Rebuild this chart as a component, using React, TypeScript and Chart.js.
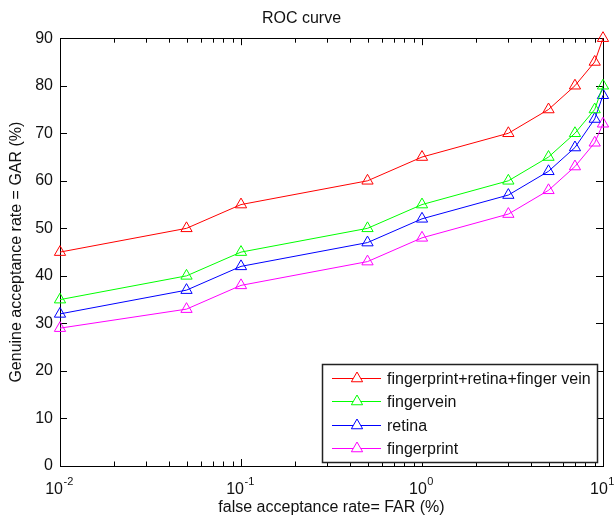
import React, { useEffect, useRef } from "react";
import { Chart, registerables } from "chart.js";

Chart.register(...registerables);

// ---- data ----
const FAR = [0.01, 0.05, 0.1, 0.5, 1, 3, 5, 7, 9, 10];
const fusionGAR = [45, 50, 55, 60, 65, 70, 75, 80, 85, 90];
const fingerveinGAR = [35, 40, 45, 50, 55, 60, 65, 70, 75, 80];
const retinaGAR = [32, 37, 42, 47, 52, 57, 62, 67, 73, 78];
const fingerprintGAR = [29, 33, 38, 43, 48, 53, 58, 63, 68, 72];
const seriesLabels = ["fingerprint+retina+finger vein", "fingervein", "retina", "fingerprint"];
const seriesColors = ["#ff0000", "#00ff00", "#0000ff", "#ff00ff"];
const yTickValues = [0, 10, 20, 30, 40, 50, 60, 70, 80, 90];
const xDecades = [0.01, 0.1, 1, 10];
const xDecadeExponents = ["-2", "-1", "0", "1"];

const FONT = "'Liberation Sans', Arial, sans-serif";

const matlabAxes = {
  id: "matlabAxes",
  beforeDatasetsDraw(chart: any) {
    const { ctx, chartArea } = chart;
    const xs = chart.scales.x;
    const ys = chart.scales.y;
    const { left, right, top, bottom } = chartArea;
    ctx.save();
    ctx.strokeStyle = "#000";
    ctx.lineWidth = 1;
    ctx.beginPath();
    // y ticks (left and right, inward)
    yTickValues.forEach((v) => {
      const y = Math.round(ys.getPixelForValue(v)) + 0.5;
      ctx.moveTo(left, y);
      ctx.lineTo(left + 7, y);
      ctx.moveTo(right, y);
      ctx.lineTo(right - 7, y);
    });
    // x ticks (bottom and top, inward)
    xDecades.forEach((d, i) => {
      const x = Math.round(xs.getPixelForValue(d)) + 0.5;
      ctx.moveTo(x, bottom);
      ctx.lineTo(x, bottom - 7);
      ctx.moveTo(x, top);
      ctx.lineTo(x, top + 7);
      if (i < xDecades.length - 1) {
        for (let m = 2; m <= 9; m++) {
          const xm = Math.round(xs.getPixelForValue(d * m)) + 0.5;
          ctx.moveTo(xm, bottom);
          ctx.lineTo(xm, bottom - 4.5);
          ctx.moveTo(xm, top);
          ctx.lineTo(xm, top + 4.5);
        }
      }
    });
    ctx.stroke();
    ctx.strokeRect(Math.round(left) + 0.5, Math.round(top) + 0.5, Math.round(right - left), Math.round(bottom - top));
    ctx.restore();
  },
  afterDatasetsDraw(chart: any) {
    const { ctx } = chart;
    // legend box
    const bx = 322, by = 364, bw = 275, bh = 98;
    ctx.save();
    ctx.fillStyle = "#fff";
    ctx.fillRect(bx, by, bw, bh);
    ctx.strokeStyle = "#222";
    ctx.lineWidth = 1.5;
    ctx.strokeRect(bx + 0.5, by + 0.5, bw, bh);
    ctx.font = `16px ${FONT}`;
    ctx.textBaseline = "middle";
    ctx.textAlign = "left";
    chart.data.datasets.forEach((ds: any, i: number) => {
      const y = Math.round(by + 14 + i * 23.3) + 0.5;
      ctx.strokeStyle = ds.borderColor;
      ctx.lineWidth = 1;
      ctx.beginPath();
      ctx.moveTo(bx + 10, y);
      ctx.lineTo(bx + 59, y);
      ctx.stroke();
      // triangle marker
      const cx = bx + 35, r = 6.5;
      ctx.beginPath();
      ctx.moveTo(cx, y - r);
      ctx.lineTo(cx + r * Math.sin((2 * Math.PI) / 3), y - r * Math.cos((2 * Math.PI) / 3));
      ctx.lineTo(cx + r * Math.sin((4 * Math.PI) / 3), y - r * Math.cos((4 * Math.PI) / 3));
      ctx.closePath();
      ctx.fillStyle = "#fff";
      ctx.fill();
      ctx.stroke();
      ctx.fillStyle = "#111";
      ctx.fillText(ds.label, bx + 65, y + 1);
    });
    ctx.restore();
  },
  afterDraw(chart: any) {
    const { ctx } = chart;
    const xs = chart.scales.x;
    ctx.save();
    ctx.fillStyle = "#111";
    ctx.textBaseline = "alphabetic";
    ctx.textAlign = "left";
    xDecades.forEach((d, i) => {
      const x = xs.getPixelForValue(d);
      ctx.font = `16px ${FONT}`;
      const w1 = ctx.measureText("10").width;
      ctx.font = `11px ${FONT}`;
      const w2 = ctx.measureText(xDecadeExponents[i]).width;
      const start = x - (w1 + w2) / 2 - 1;
      ctx.font = `16px ${FONT}`;
      ctx.fillText("10", start, 494);
      ctx.font = `11px ${FONT}`;
      ctx.fillText(xDecadeExponents[i], start + w1 + 0.5, 485);
    });
    ctx.restore();
  },
};

export default function App() {
  const canvasRef = useRef<HTMLCanvasElement | null>(null);

  useEffect(() => {
    const canvas = canvasRef.current;
    if (!canvas) return;
    const seriesValues = [fusionGAR, fingerveinGAR, retinaGAR, fingerprintGAR];
    const chart = new Chart(canvas, {
      type: "line",
      data: {
        datasets: seriesValues.map((vals, i) => ({
          label: seriesLabels[i],
          data: FAR.map((x, j) => ({ x, y: vals[j] })),
          borderColor: seriesColors[i],
          backgroundColor: "transparent",
          borderWidth: 1,
          pointStyle: "triangle",
          pointRadius: 6.5,
          pointBorderWidth: 1,
          pointBorderColor: seriesColors[i],
          pointBackgroundColor: "transparent",
          tension: 0,
          clip: false as any,
        })),
      },
      options: {
        animation: false,
        responsive: false,
        devicePixelRatio: 1,
        layout: { padding: { left: 0, right: 13, top: 0, bottom: 0 } },
        plugins: {
          legend: { display: false },
          tooltip: { enabled: false },
          title: {
            display: true,
            text: "ROC curve",
            color: "#111",
            font: { family: FONT, size: 16, weight: "normal" as any },
            padding: { top: 9, bottom: 10 },
          },
        },
        scales: {
          x: {
            type: "logarithmic",
            min: 0.01,
            max: 10,
            grid: { display: false },
            border: { display: false },
            ticks: { display: false },
            title: {
              display: true,
              text: "false acceptance rate= FAR (%)",
              color: "#111",
              font: { family: FONT, size: 16 },
              padding: { top: 0, bottom: 2 },
            },
            afterFit: (scale: any) => {
              scale.height = 53;
            },
          },
          y: {
            type: "linear",
            min: 0,
            max: 90,
            grid: { display: false, drawTicks: false },
            border: { display: false },
            ticks: {
              stepSize: 10,
              padding: 7,
              color: "#111",
              font: { family: FONT, size: 16 },
            },
            title: {
              display: true,
              text: "Genuine acceptance rate = GAR (%)",
              color: "#111",
              font: { family: FONT, size: 16 },
              padding: { top: 7, bottom: 0 },
            },
            afterFit: (scale: any) => {
              scale.width = 60;
            },
          },
        },
      },
      plugins: [matlabAxes],
    });
    return () => chart.destroy();
  }, []);

  return (
    <div style={{ position: "absolute", left: 0, top: 0, width: 616, height: 519, background: "#fff" }}>
      <canvas ref={canvasRef} width={616} height={519} style={{ width: 616, height: 519 }} />
    </div>
  );
}
